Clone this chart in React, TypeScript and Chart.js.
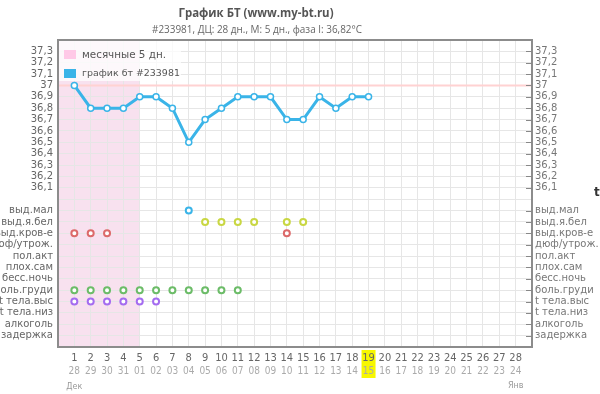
import React, { useEffect, useRef } from 'react';
import { Chart, registerables } from 'chart.js';

Chart.register(...registerables);

// ---- data ----
const dayNumbers = [1, 2, 3, 4, 5, 6, 7, 8, 9, 10, 11, 12, 13, 14, 15, 16, 17, 18, 19, 20, 21, 22, 23, 24, 25, 26, 27, 28];
const dateLabels = ['28', '29', '30', '31', '01', '02', '03', '04', '05', '06', '07', '08', '09', '10', '11', '12', '13', '14', '15', '16', '17', '18', '19', '20', '21', '22', '23', '24'];
const temperatures = [37.0, 36.8, 36.8, 36.8, 36.9, 36.9, 36.8, 36.5, 36.7, 36.8, 36.9, 36.9, 36.9, 36.7, 36.7, 36.9, 36.8, 36.9, 36.9];
const tempTickLabels = ['37,3', '37,2', '37,1', '37', '36,9', '36,8', '36,7', '36,6', '36,5', '36,4', '36,3', '36,2', '36,1'];
const tempTickValues = [37.3, 37.2, 37.1, 37.0, 36.9, 36.8, 36.7, 36.6, 36.5, 36.4, 36.3, 36.2, 36.1];
const symptomLabels = ['выд.мал', 'выд.я.бел', 'выд.кров-е', 'дюф/утрож.', 'пол.акт', 'плох.сам', 'бесс.ночь', 'боль.груди', 't тела.выс', 't тела.низ', 'алкоголь', 'задержка'];
const symptomValues = [35.9, 35.8, 35.7, 35.6, 35.5, 35.4, 35.3, 35.2, 35.1, 35.0, 34.9, 34.8];
const symDischargeSmall = [8];
const symDischargeWhite = [9, 10, 11, 12, 14, 15];
const symDischargeBlood = [1, 2, 3, 14];
const symBreastPain = [1, 2, 3, 4, 5, 6, 7, 8, 9, 10, 11];
const symHighTemp = [1, 2, 3, 4, 5, 6];
const periodDays = 5;
const currentDay = 19;
const cycleLength = 28;
const coverLine = 37.0;
const yMin = 34.7;
const yMax = 37.4;
const title = 'График БТ (www.my-bt.ru)';
const subtitle = '#233981, ДЦ: 28 дн., М: 5 дн., фаза I: 36,82°C';
const legendPeriod = 'месячные 5 дн.';
const legendTemp = 'график бт #233981';
const monthStart = 'Дек';
const monthEnd = 'Янв';

const FONT = '"DejaVu Sans", Verdana, sans-serif';
const XFONT = '"DejaVu Sans Condensed", "Liberation Sans", sans-serif';
const TFONT = '"Open Sans", "Liberation Sans", sans-serif';
const BLUE = '#3ab4e8';

function labelFor(value: number): string {
  const v = Math.round(value * 10) / 10;
  const ti = tempTickValues.findIndex((t) => Math.abs(t - v) < 0.001);
  if (ti >= 0) return tempTickLabels[ti];
  const si = symptomValues.findIndex((t) => Math.abs(t - v) < 0.001);
  if (si >= 0) return symptomLabels[si];
  return '';
}

function symptomPoints(days: number[], row: number) {
  return days.map((d) => ({ x: d, y: symptomValues[row] }));
}

const yTickValues = () => {
  const arr: { value: number }[] = [];
  const n = Math.round((yMax - yMin) * 10);
  for (let i = 0; i <= n; i++) arr.push({ value: Math.round((yMin + i * 0.1) * 10) / 10 });
  return arr;
};
const xTickValues = () => {
  const arr: { value: number }[] = [];
  for (let i = 0; i <= cycleLength + 1; i++) arr.push({ value: i });
  return arr;
};

// draw text at a given font size, squeezed horizontally to a target width
function squeezeText(ctx: CanvasRenderingContext2D, text: string, font: string, target: number, cx: number, y: number) {
  ctx.save();
  ctx.font = font;
  const w = ctx.measureText(text).width;
  const k = Math.min(1, target / w);
  ctx.translate(cx, y);
  ctx.scale(k, 1);
  ctx.textAlign = 'center';
  ctx.fillText(text, 0, 0);
  ctx.restore();
}

function fitText(ctx: CanvasRenderingContext2D, text: string, weight: string, family: string, target: number, x: number, y: number) {
  ctx.font = `${weight} 10px ${family}`;
  const w = ctx.measureText(text).width;
  const size = (10 * target) / w;
  ctx.font = `${weight} ${size.toFixed(2)}px ${family}`;
  ctx.fillText(text, x, y);
}

const decorPlugin = {
  id: 'decor',
  beforeDraw(chart: any) {
    const { ctx, chartArea, scales } = chart;
    const x = scales.x;
    ctx.save();
    ctx.fillStyle = '#f8e1ef';
    ctx.fillRect(x.getPixelForValue(0), chartArea.top, x.getPixelForValue(periodDays) - x.getPixelForValue(0), chartArea.bottom - chartArea.top);
    const cx = x.getPixelForValue(currentDay);
    ctx.fillStyle = '#f7f700';
    ctx.fillRect(cx - 7, chartArea.bottom + 3, 14, 28);
    ctx.restore();
  },
  beforeDatasetsDraw(chart: any) {
    const { ctx, chartArea, scales } = chart;
    const y = scales.y.getPixelForValue(coverLine);
    ctx.save();
    ctx.strokeStyle = '#ffd2d2';
    ctx.lineWidth = 2;
    ctx.beginPath();
    ctx.moveTo(chartArea.left, y);
    ctx.lineTo(chartArea.right, y);
    ctx.stroke();
    ctx.restore();
  },
  afterDraw(chart: any) {
    const { ctx, chartArea, scales } = chart;
    ctx.save();
    ctx.strokeStyle = '#8c8c8c';
    ctx.lineWidth = 2;
    ctx.strokeRect(chartArea.left, chartArea.top, chartArea.right - chartArea.left, chartArea.bottom - chartArea.top);
    ctx.lineWidth = 1;
    ctx.strokeStyle = '#888';
    [...tempTickValues, ...symptomValues].forEach((v) => {
      const py = Math.round(scales.y.getPixelForValue(v)) + 0.5;
      ctx.beginPath();
      ctx.moveTo(chartArea.right - 6, py);
      ctx.lineTo(chartArea.right, py);
      ctx.stroke();
    });
    // legend
    ctx.fillStyle = 'rgba(255,255,255,0.75)';
    ctx.fillRect(chartArea.left + 1, chartArea.top + 1, 122, 40);
    ctx.fillStyle = '#ffc9e7';
    ctx.fillRect(chartArea.left + 6, chartArea.top + 10, 12, 9);
    ctx.fillStyle = BLUE;
    ctx.fillRect(chartArea.left + 6, chartArea.top + 29, 12, 9);
    ctx.fillStyle = '#555';
    ctx.textBaseline = 'middle';
    ctx.textAlign = 'left';
    fitText(ctx, legendPeriod, 'normal', FONT, 84, chartArea.left + 24, chartArea.top + 15);
    fitText(ctx, legendTemp, 'normal', FONT, 98, chartArea.left + 24, chartArea.top + 34);
    // titles
    ctx.fillStyle = '#555';
    squeezeText(ctx, title, 'bold 12.5px ' + TFONT, 155, 256, 13);
    ctx.fillStyle = '#666';
    squeezeText(ctx, subtitle, '10.5px ' + TFONT, 210, 257, 30);
    // month labels
    ctx.textAlign = 'center';
    ctx.font = '8px ' + FONT;
    ctx.fillStyle = '#999';
    ctx.fillText(monthStart, scales.x.getPixelForValue(1), 387);
    ctx.fillText(monthEnd, scales.x.getPixelForValue(cycleLength), 386);
    // cut-off letter at right edge
    ctx.font = 'bold 12px ' + FONT;
    ctx.fillStyle = '#333';
    ctx.textAlign = 'left';
    ctx.fillText('t', 594, 193);
    ctx.restore();
  },
};

export default function App() {
  const ref = useRef<HTMLCanvasElement>(null);
  useEffect(() => {
    document.body.style.margin = '0';
    const canvas = ref.current!;
    const symStyle = (color: string) => ({
      type: 'line' as const,
      showLine: false,
      borderColor: color,
      backgroundColor: '#fff',
      pointRadius: 3,
      pointBorderWidth: 2,
      pointHoverRadius: 3,
    });
    const chart = new Chart(canvas, {
      type: 'line',
      data: {
        datasets: [
          {
            label: legendTemp,
            data: temperatures.map((t, i) => ({ x: dayNumbers[i], y: t })),
            borderColor: BLUE,
            backgroundColor: '#fff',
            borderWidth: 3,
            pointRadius: 3,
            pointBorderWidth: 1.5,
            pointBackgroundColor: '#fff',
            pointBorderColor: BLUE,
            tension: 0,
          },
          { ...symStyle('#3ab4e8'), data: symptomPoints(symDischargeSmall, 0) },
          { ...symStyle('#c9d743'), data: symptomPoints(symDischargeWhite, 1) },
          { ...symStyle('#dc6a6a'), data: symptomPoints(symDischargeBlood, 2) },
          { ...symStyle('#6cbc68'), data: symptomPoints(symBreastPain, 7) },
          { ...symStyle('#a46cf0'), data: symptomPoints(symHighTemp, 8) },
        ],
      },
      options: {
        responsive: false,
        animation: false,
        events: [],
        layout: { padding: { top: 40, left: 0, right: 0, bottom: 0 } },
        plugins: { legend: { display: false }, tooltip: { enabled: false }, title: { display: false } },
        scales: {
          x: {
            type: 'linear',
            position: 'bottom',
            weight: 1,
            min: 0,
            max: cycleLength + 1,
            afterBuildTicks: (s: any) => { s.ticks = xTickValues(); },
            afterFit: (s: any) => { s.height = 17; },
            grid: { color: '#e6e6e6', drawTicks: false },
            border: { display: false },
            ticks: {
              autoSkip: false,
              maxRotation: 0,
              padding: 5,
              color: '#666',
              font: { family: XFONT, size: 11 },
              callback: (v: any) => (v >= 1 && v <= cycleLength ? String(dayNumbers[v - 1]) : ''),
            },
          },
          x2: {
            type: 'linear',
            position: 'bottom',
            weight: 2,
            min: 0,
            max: cycleLength + 1,
            afterBuildTicks: (s: any) => { s.ticks = xTickValues(); },
            afterFit: (s: any) => { s.height = 30; },
            grid: { display: false, drawTicks: false },
            border: { display: false },
            ticks: {
              autoSkip: false,
              maxRotation: 0,
              padding: 1,
              color: '#aaa',
              font: { family: XFONT, size: 10 },
              callback: (v: any) => (v >= 1 && v <= cycleLength ? dateLabels[v - 1] : ''),
            },
          },
          y: {
            type: 'linear',
            position: 'left',
            min: yMin,
            max: yMax,
            afterBuildTicks: (s: any) => { s.ticks = yTickValues(); },
            afterFit: (s: any) => { s.width = 58; },
            grid: { color: '#e6e6e6', drawTicks: false },
            border: { display: false },
            ticks: {
              autoSkip: false,
              padding: 5,
              color: '#666',
              font: { family: FONT, size: 10 },
              callback: (v: any) => labelFor(v),
            },
          },
          yr: {
            type: 'linear',
            position: 'right',
            min: yMin,
            max: yMax,
            afterBuildTicks: (s: any) => { s.ticks = yTickValues(); },
            afterFit: (s: any) => { s.width = 68; },
            grid: { display: false, drawTicks: false },
            border: { display: false },
            ticks: {
              autoSkip: false,
              padding: 3,
              color: '#777',
              font: { family: FONT, size: 10 },
              callback: (v: any) => labelFor(v),
            },
          },
        },
      },
      plugins: [decorPlugin],
    });
    return () => chart.destroy();
  }, []);
  return (
    <div style={{ width: 600, height: 394 }}>
      <canvas ref={ref} width={600} height={394} />
    </div>
  );
}
